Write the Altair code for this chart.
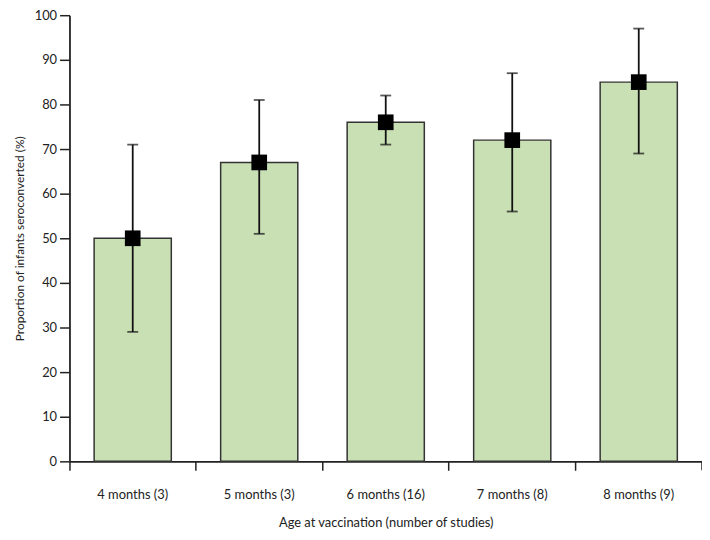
import altair as alt
import pandas as pd

categories = ["4 months (3)", "5 months (3)", "6 months (16)", "7 months (8)", "8 months (9)"]
values = [50, 67, 76, 72, 85]
lower = [29, 51, 71, 56, 69]
upper = [71, 81, 82, 87, 97]

df = pd.DataFrame({"cat": categories, "val": values, "lo": lower, "hi": upper})

FONT = "Lato"
W, H = 638, 450

x = alt.X("cat:N", sort=categories,
          scale=alt.Scale(paddingInner=0, paddingOuter=0),
          axis=alt.Axis(title="Age at vaccination (number of studies)", labelAngle=0,
                        bandPosition=0, tickSize=9, labelPadding=18, titlePadding=16,
                        domainColor="#222", tickColor="#222", domainWidth=1.8, tickWidth=1.5,
                        labelFontSize=13, titleFontSize=13, labelFont=FONT, titleFont=FONT,
                        titleFontWeight="normal", labelColor="#222", titleColor="#222"))
y_axis = alt.Axis(title="Proportion of infants seroconverted (%)", values=list(range(0, 101, 10)),
                  tickSize=10, labelPadding=3, titlePadding=8, grid=False,
                  domainColor="#222", tickColor="#222", domainWidth=1.8, tickWidth=1.5,
                  labelFontSize=13, titleFontSize=12, labelFont=FONT, titleFont=FONT,
                  titleFontWeight="normal", labelColor="#222", titleColor="#222")
yscale = alt.Scale(domain=[0, 100], nice=False)

base = alt.Chart(df)
bars = base.mark_bar(color="#c9e0b5", stroke="#333", strokeWidth=1.5,
                     width=alt.RelativeBandSize(0.61)).encode(
    x=x, y=alt.Y("val:Q", scale=yscale, axis=y_axis))
err = base.mark_rule(color="#111", strokeWidth=1.8).encode(
    x=alt.X("cat:N", sort=categories), y=alt.Y("lo:Q"), y2="hi:Q")
cap_lo = base.mark_tick(color="#111", size=11, thickness=1.8, orient="horizontal").encode(
    x=alt.X("cat:N", sort=categories), y=alt.Y("lo:Q"))
cap_hi = base.mark_tick(color="#111", size=11, thickness=1.8, orient="horizontal").encode(
    x=alt.X("cat:N", sort=categories), y=alt.Y("hi:Q"))
pts = base.mark_point(shape="square", filled=True, color="#000", size=250, opacity=1).encode(
    x=alt.X("cat:N", sort=categories), y=alt.Y("val:Q"))
end_tick = alt.Chart(pd.DataFrame({"a": [0]})).mark_rule(color="#222", strokeWidth=1.5).encode(
    x=alt.value(W), y=alt.value(H), y2=alt.value(H + 9))

chart = alt.layer(bars, err, cap_lo, cap_hi, pts, end_tick).properties(
    width=W, height=H,
    autosize=alt.AutoSizeParams(type="none"),
    padding={"left": 62, "top": 5, "right": 0, "bottom": 70},
).configure_view(stroke=None)

chart.save("out.html", embed_options={"renderer": "svg", "actions": False})
